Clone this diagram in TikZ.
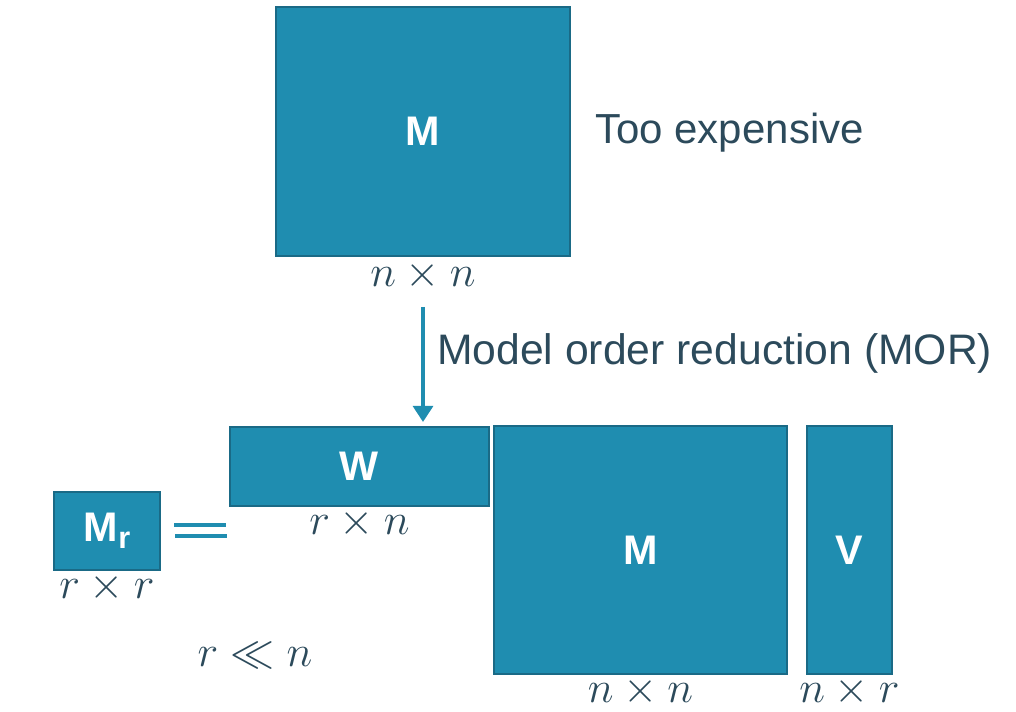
\documentclass[tikz,border=0pt]{standalone}
\usepackage{fix-cm}
\usepackage{fontspec}
\setmainfont{Liberation Sans}
\usetikzlibrary{positioning,arrows.meta}
\definecolor{matfill}{HTML}{1F8DB0}
\definecolor{matedge}{HTML}{1A6A86}
\definecolor{slate}{HTML}{2C4A5B}
\tikzset{
  mat/.style={draw=matedge, fill=matfill, line width=1.6pt, inner sep=0pt,
    text=white, font=\fontsize{31}{31}\selectfont\bfseries},
  dimlbl/.style={text=slate, inner sep=0pt, font=\fontsize{33}{33}\selectfont},
  plain/.style={text=slate, inner sep=0pt, anchor=west, font=\fontsize{32}{32}\selectfont},
  mor/.style={draw=matfill, line width=2.4pt, -{Triangle[width=15pt,length=12pt]}}
}
\begin{document}
\begin{tikzpicture}[x=0.75pt, y=-0.75pt]
  \useasboundingbox (0,0) rectangle (1016,712);
  \node[mat, minimum width=294*0.75pt, minimum height=249*0.75pt] (mtop) at (423,131.5) {M};
  \node[dimlbl, below=3pt of mtop] (mtopdim) {$n\times n$};
  \node[plain, font=\fontsize{31.5}{31.5}\selectfont] (cost) at (595,133) {Too expensive};
  \node[mat, minimum width=259*0.75pt, minimum height=79*0.75pt] (w) at (359.5,466.5) {W};
  \node[mat, minimum width=293*0.75pt, minimum height=248*0.75pt] (mbig) at (640.5,550) {M};
  \node[mat, minimum width=85*0.75pt, minimum height=248*0.75pt] (v) at (849.5,550) {V};
  \node[mat, minimum width=106*0.75pt, minimum height=78*0.75pt] (mr) at (107,531)
    {M\raisebox{-0.3ex}{\fontsize{23}{23}\selectfont r}};
  \node[dimlbl, below=1pt of w] (wdim) {$r\times n$};
  \node[dimlbl, below=1pt of mbig] (mbigdim) {$n\times n$};
  \node[dimlbl, below=1pt of v] (vdim) {$n\times r$};
  \node[dimlbl, below=1pt of mr] (mrdim) {$r\times r$};
  \node[dimlbl] (rank) at (255,655) {$r\ll n$};
  \draw[mor, shorten <=12pt, shorten >=3pt] (mtopdim.south -| mtop) -- (mtop |- w.north);
  \node[plain] (morlbl) at (437,353) {Model order reduction (MOR)};
  \draw[matfill, line width=3pt] (174,525) -- (226,525);
  \draw[matfill, line width=3pt] (175,536) -- (227,536);
\end{tikzpicture}
\end{document}
